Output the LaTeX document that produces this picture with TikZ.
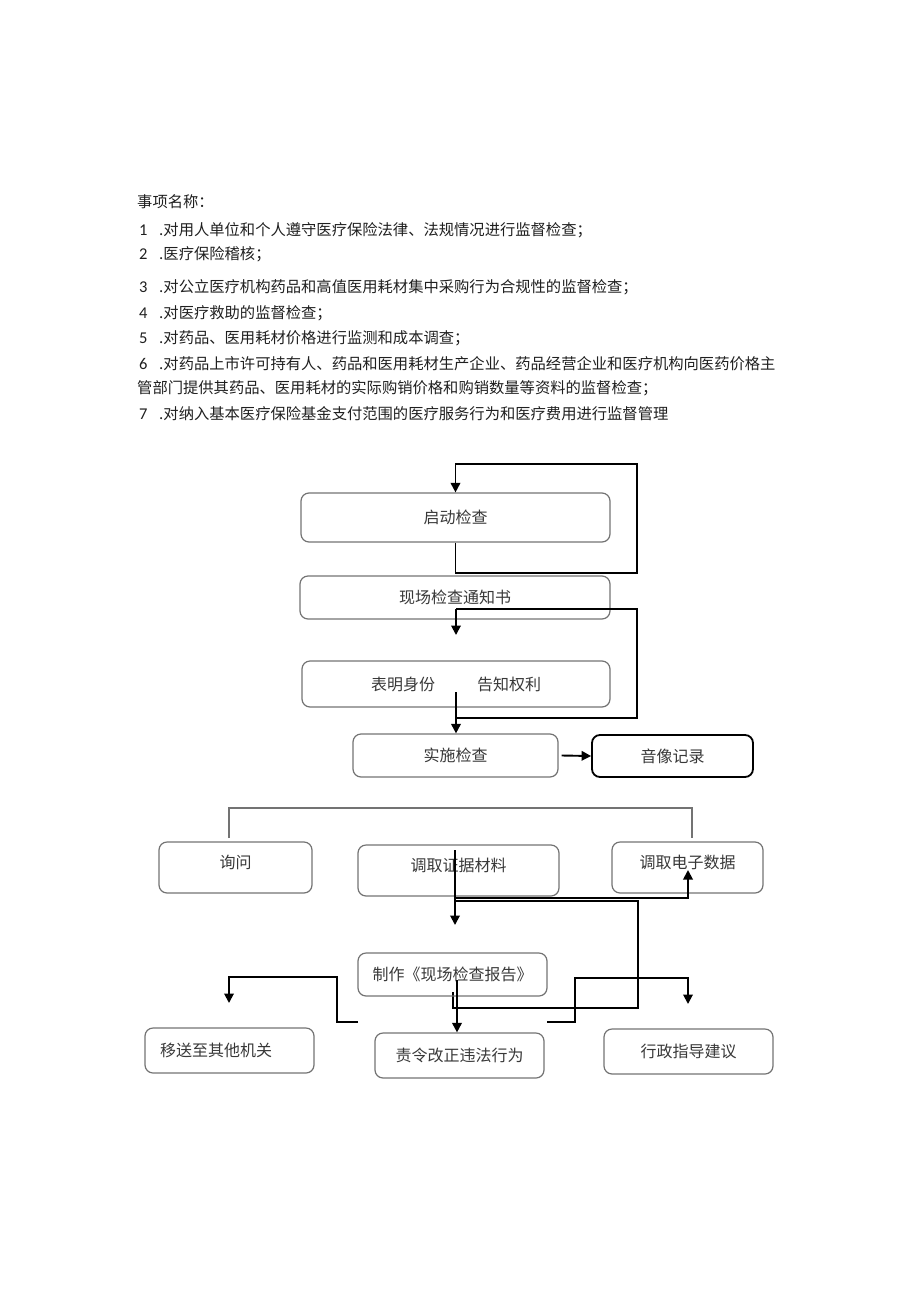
\documentclass[tikz,border=0pt]{standalone}
\usepackage{fontspec}
\setmainfont{Noto Sans CJK SC}
\newfontfamily\numfont{Carlito}
\usetikzlibrary{arrows.meta}
\definecolor{boxline}{gray}{0.45}
\definecolor{boxtext}{gray}{0.22}
\definecolor{listtext}{gray}{0.12}

\begin{document}
\begin{tikzpicture}[x=1pt, y=-1pt,
		box/.style={draw=boxline, line width=1.2pt, rounded corners=8pt, text=boxtext, inner sep=0pt, font=\fontsize{16pt}{19pt}\selectfont},
		flow/.style={line width=1.9pt},
		arr/.style={flow, -{Triangle[width=9.5pt,length=9.5pt]}},
		bracket/.style={draw=boxline, line width=1.2pt},
		item/.style={anchor=west, inner sep=0pt, text=listtext, font=\fontsize{15.3pt}{18pt}\selectfont},
		num/.style={anchor=west, inner sep=0pt, text=listtext, font=\numfont\fontsize{16.5pt}{18pt}\selectfont}]
		%%%%% START %%%%%
		
		\useasboundingbox (0,0) rectangle (920,1301);
		
		\node[item] (title) at (137,202) {事项名称：};
		\node[num] (n1) at (139,230) {1};
		\node[item] (item1) at (159,230) {.对用人单位和个人遵守医疗保险法律、法规情况进行监督检查；};
		\node[num] (n2) at (139,254) {2};
		\node[item] (item2) at (159,254) {.医疗保险稽核；};
		\node[num] (n3) at (139,287) {3};
		\node[item] (item3) at (159,287) {.对公立医疗机构药品和高值医用耗材集中采购行为合规性的监督检查；};
		\node[num] (n4) at (139,313) {4};
		\node[item] (item4) at (159,313) {.对医疗救助的监督检查；};
		\node[num] (n5) at (139,338) {5};
		\node[item] (item5) at (159,338) {.对药品、医用耗材价格进行监测和成本调查；};
		\node[num] (n6) at (139,364) {6};
		\node[item] (item6) at (159,364) {.对药品上市许可持有人、药品和医用耗材生产企业、药品经营企业和医疗机构向医药价格主};
		\node[item] (item6b) at (137,388) {管部门提供其药品、医用耗材的实际购销价格和购销数量等资料的监督检查；};
		\node[num] (n7) at (139,414) {7};
		\node[item] (item7) at (159,414) {.对纳入基本医疗保险基金支付范围的医疗服务行为和医疗费用进行监督管理};
		
		% upper part
		\node[box, minimum width=309pt, minimum height=49pt] (qidong) at (455.5,517.5) {启动检查};
		\node[box, minimum width=310pt, minimum height=43pt] (tongzhi) at (455,597.5) {现场检查通知书};
		\node[box, minimum width=308pt, minimum height=46pt] (shenfen) at (456,684) {表明身份\hspace{42pt}告知权利};
		\node[box, minimum width=205pt, minimum height=43pt] (shishi) at (455.5,755.5) {实施检查};
		\node[box, draw=black, line width=1.8pt, minimum width=161pt, minimum height=42pt] (yinxiang) at (672.5,756) {音像记录};
		
		\coordinate (loopa) at (637,573);
		\coordinate (loopb) at (637,464);
		\draw[arr] (qidong.south) |- (loopa) -- (loopb) -| (qidong.north);
		
		\coordinate (loopc) at (456,609);
		\coordinate (loopd) at (637,718);
		\coordinate (loope) at (456,635);
		\draw[flow] (loopc) -| (loopd) -- (loopd -| loopc);
		\draw[arr] (loopc) -- (loope);
		\coordinate (down) at (456,692);
		\draw[arr] (down) -- (down |- shishi.north);
		\draw[arr] ([xshift=3pt]shishi.east) -- (yinxiang.west);
		
		% middle row
		\node[box, minimum width=153pt, minimum height=51pt, text depth=11pt] (xunwen) at (235.5,867.5) {询问};
		\node[box, minimum width=201pt, minimum height=51pt, text depth=11pt] (zhengju) at (458.5,870.5) {调取证据材料};
		\node[box, minimum width=151pt, minimum height=51pt, text depth=11pt] (dianzi) at (687.5,867.5) {调取电子数据};
		
		\coordinate (brl) at (229,838);
		\coordinate (brr) at (692,838);
		\coordinate (brt) at (229,808);
		\draw[bracket] (brl) |- (brr |- brt) -- (brr);
		
		\coordinate (mida) at (455,850);
		\coordinate (midb) at (455,925);
		\draw[arr] (mida) -- (midb);
		\coordinate (midc) at (455,898);
		\coordinate (midd) at (688,870);
		\draw[arr] (midc) -| (midd);
		\coordinate (mide) at (455,901);
		\coordinate (midf) at (638,1008);
		\coordinate (midg) at (453,992);
		\draw[flow] (mide) -| (midf) -| (midg);
		
		% lower part
		\node[box, minimum width=189pt, minimum height=43pt] (baogao) at (452.5,974.5) {制作《现场检查报告》};
		\node[box, minimum height=45pt, text width=139pt, inner xsep=15pt, align=left] (yisong) at (229.5,1050.5) {移送至其他机关};
		\node[box, minimum width=169pt, minimum height=45pt] (zeling) at (459.5,1055.5) {责令改正违法行为};
		\node[box, minimum width=169pt, minimum height=45pt] (xingzheng) at (688.5,1051.5) {行政指导建议};
		
		\coordinate (rep) at (457,980);
		\draw[arr] (rep) -- (rep |- zeling.north);
		
		\coordinate (lefta) at (358,1022);
		\coordinate (leftb) at (337,977);
		\coordinate (leftc) at (229,1003);
		\draw[arr] (lefta) -| (leftb) -| (leftc);
		
		\coordinate (righta) at (547,1022);
		\coordinate (rightb) at (575,978);
		\coordinate (rightc) at (688,1004);
		\draw[arr] (righta) -| (rightb) -| (rightc);
		
		%%%%% END %%%%%
\end{tikzpicture}
\end{document}
